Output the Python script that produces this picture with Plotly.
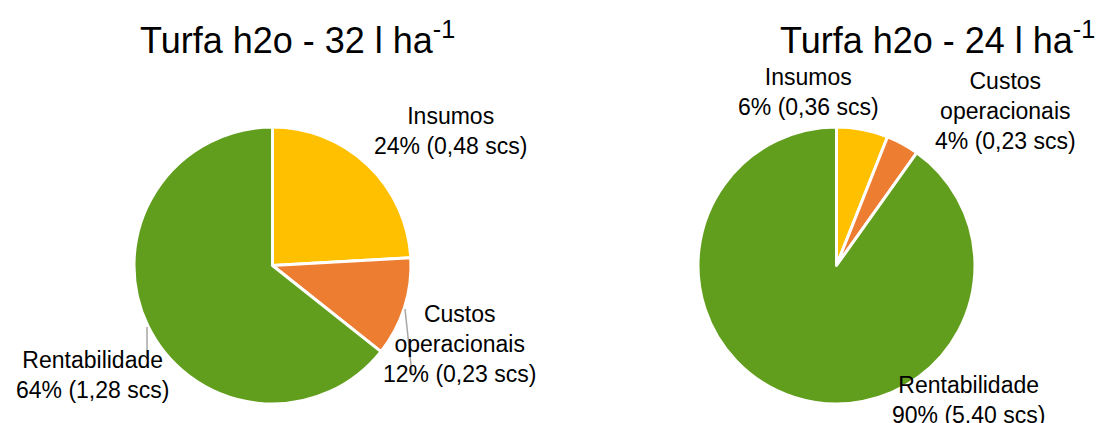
import plotly.graph_objects as go

categories = ["Insumos", "Custos<br>operacionais", "Rentabilidade"]
values_32 = [0.48, 0.23, 1.28]
values_24 = [0.36, 0.23, 5.40]
labels_32 = ["Insumos<br>24% (0,48 scs)", "Custos<br>operacionais<br>12% (0,23 scs)", "Rentabilidade<br>64% (1,28 scs)"]
labels_24 = ["Insumos<br>6% (0,36 scs)", "Custos<br>operacionais<br>4% (0,23 scs)", "Rentabilidade<br>90% (5,40 scs)"]
titles = ["Turfa h2o - 32 l ha<sup>-1</sup>", "Turfa h2o - 24 l ha<sup>-1</sup>"]
colors = ["#FFC000", "#ED7D31", "#629E1E"]

W, H = 1109, 423
FONT = "Liberation Sans, Arial, sans-serif"

def px(x, y):
    return x / W, 1 - y / H

fig = go.Figure()
fig.add_trace(go.Pie(labels=categories, values=values_32, sort=False, direction="clockwise",
                     rotation=0, textinfo="none", marker=dict(colors=colors, line=dict(color="white", width=3)),
                     domain=dict(x=[134 / W, 411 / W], y=[1 - 404 / H, 1 - 127 / H]), showlegend=False))
fig.add_trace(go.Pie(labels=categories, values=values_24, sort=False, direction="clockwise",
                     rotation=0, textinfo="none", marker=dict(colors=colors, line=dict(color="white", width=3)),
                     domain=dict(x=[698 / W, 975 / W], y=[1 - 404 / H, 1 - 127 / H]), showlegend=False))

annos = []
# titles
for (x, y), t in zip([(297, 38), (937, 38)], titles):
    ax, ay = px(x, y)
    annos.append(dict(x=ax, y=ay, xref="paper", yref="paper", text=t, showarrow=False,
                      font=dict(size=36, color="black", family=FONT), xanchor="center", yanchor="middle"))

pos_32 = [(450, 131), (459, 344), (92, 375)]
pos_24 = [(808, 92), (1005, 111), (968, 400)]
for pos, labs in [(pos_32, labels_32), (pos_24, labels_24)]:
    for (x, y), t in zip(pos, labs):
        ax, ay = px(x, y)
        annos.append(dict(x=ax, y=ay, xref="paper", yref="paper", text=t, showarrow=False,
                          font=dict(size=23, color="black", family=FONT), xanchor="center", yanchor="middle",
                          align="center"))

shapes = []
for (x0, y0, x1, y1) in [(147, 327, 147, 356), (405, 309, 412, 374)]:
    a0, b0 = px(x0, y0)
    a1, b1 = px(x1, y1)
    shapes.append(dict(type="line", xref="paper", yref="paper", x0=a0, y0=b0, x1=a1, y1=b1,
                       line=dict(color="#A6A6A6", width=1.5)))

fig.update_layout(width=W, height=H, margin=dict(l=0, r=0, t=0, b=0),
                  paper_bgcolor="white", plot_bgcolor="white",
                  annotations=annos, shapes=shapes, font=dict(family=FONT))
fig.write_html("out.html", config={"displayModeBar": False},
               post_script="document.body.style.margin='0';document.body.style.overflow='hidden';")
